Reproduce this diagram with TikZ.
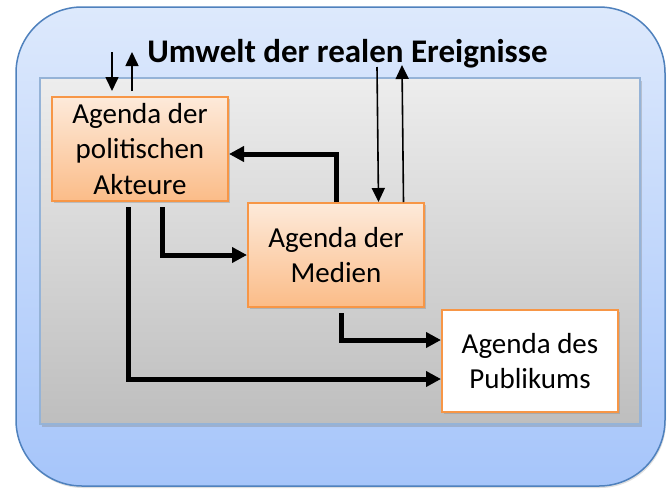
\documentclass[tikz,border=0pt]{standalone}
\usepackage{fontspec}
\setmainfont{Carlito}
\usetikzlibrary{arrows.meta,positioning,shadows}

\definecolor{blaurand}{RGB}{79,129,189}
\definecolor{blauhell}{RGB}{221,233,252}
\definecolor{blaudunkel}{RGB}{166,197,250}
\definecolor{graurand}{RGB}{149,179,215}
\definecolor{grauhell}{RGB}{237,237,237}
\definecolor{graudunkel}{RGB}{190,190,190}
\definecolor{orangerand}{RGB}{247,150,70}
\definecolor{orangehell}{RGB}{253,234,218}
\definecolor{orangedunkel}{RGB}{251,188,136}

\tikzstyle{umweltbox}=[rectangle,rounded corners=66pt,draw=blaurand,line width=1.5pt,top color=blauhell,bottom color=blaudunkel,minimum width=649pt,minimum height=479pt,drop shadow={opacity=0.25,shadow xshift=1pt,shadow yshift=-2pt}]
\tikzstyle{raum}=[rectangle,draw=graurand,line width=1.5pt,top color=grauhell,bottom color=graudunkel,minimum width=600pt,minimum height=346pt,drop shadow={opacity=0.35,shadow xshift=2pt,shadow yshift=-3pt}]
\tikzstyle{agenda}=[rectangle,draw=orangerand,line width=2pt,top color=orangehell,bottom color=orangedunkel,minimum width=176pt,minimum height=104pt,inner sep=0pt,align=center,font=\fontsize{29}{35.5}\selectfont,drop shadow={opacity=0.35,shadow xshift=2pt,shadow yshift=-2pt}]
\tikzstyle{publ}=[agenda,fill=white,top color=white,bottom color=white,minimum height=102pt]
\tikzstyle{dick}=[line width=5pt,-{Triangle[length=15pt,width=15pt]}]
\tikzstyle{duenn}=[line width=1.6pt,-{Triangle[length=14pt,width=13pt]}]

\begin{document}
\begin{tikzpicture}[x=1pt,y=-1pt]
  \useasboundingbox (0,0) rectangle (671,488);

  % Hintergrund
  \node [umweltbox] (umwelt) at (340.5,246.5) {};
  \node [raum] (raum) at (340,251) {};
  \node [anchor=base,font=\fontsize{33}{39}\selectfont\bfseries] (titel) at (347.5,62) {Umwelt der realen Ereignisse};

  % Agenden
  \node [agenda] (akteure) at (140,149) {Agenda der\\politischen\\Akteure};
  \node [agenda] (medien) [below right=0pt and 18pt of akteure] {Agenda der\\Medien};
  \node [publ] (publikum) [below right=1pt and 16pt of medien] {Agenda des\\Publikums};

  \coordinate (ein1) at (112,52);
  \coordinate (aus1) at (132,52);
  \coordinate (ein2) at (377,67);
  \coordinate (aus2) at (402,65);

  % Verbindungen
  \draw [duenn] (ein1) -- ([xshift=-28pt,yshift=5pt]akteure.north);
  \draw [duenn] ([xshift=-8pt,yshift=5pt]akteure.north) -- (aus1);
  \draw [duenn] (ein2) -- ([xshift=42.5pt]medien.north);
  \draw [duenn] ([xshift=67.5pt]medien.north) -- (aus2);

  \draw [dick] ([xshift=22pt,yshift=-5pt]akteure.south) |- (medien.west);
  \draw [dick] (medien.north) |- ([yshift=-5pt]akteure.east);
  \draw [dick] ([xshift=5.5pt,yshift=-5pt]medien.south) |- ([yshift=21pt]publikum.west);
  \draw [dick] ([xshift=-12pt,yshift=-5pt]akteure.south) |- ([yshift=-18pt]publikum.west);
\end{tikzpicture}
\end{document}
